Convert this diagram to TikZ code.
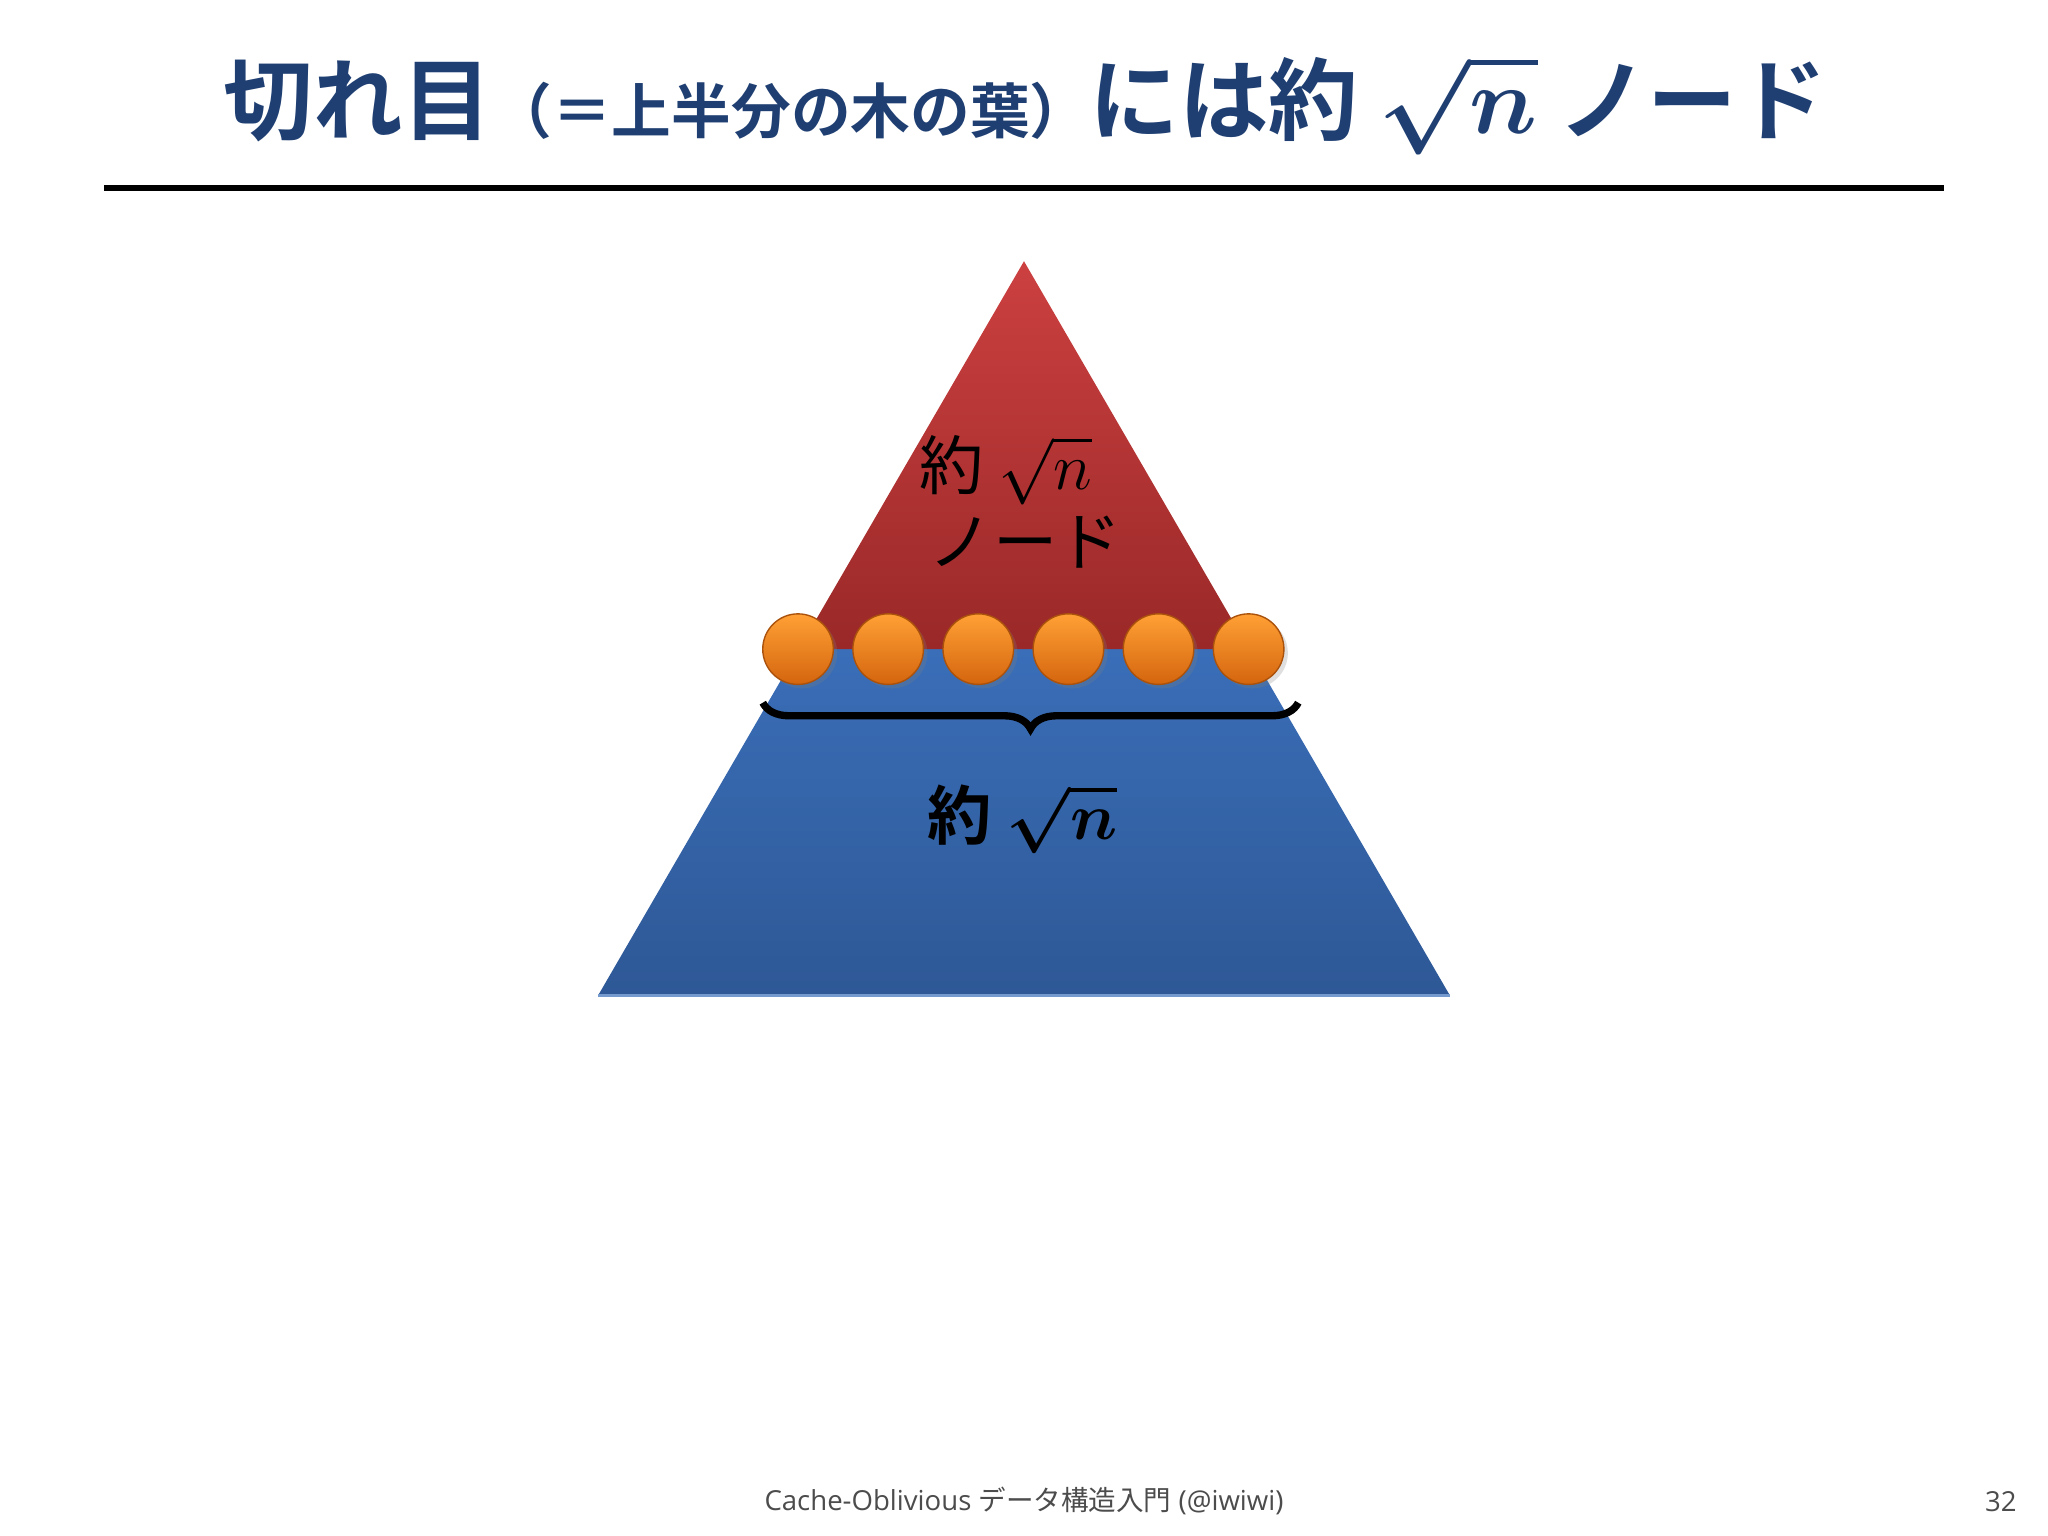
\documentclass[tikz,border=0pt]{standalone}
\usepackage{amsmath,bm}
\usepackage{fontspec}
\newfontfamily\jp{Noto Sans CJK JP}
\newfontfamily\jpb{Noto Sans CJK JP Bold}
\setmainfont{Open Sans}
\usetikzlibrary{decorations.pathreplacing,shadows}
\definecolor{ttl}{HTML}{1F3F73}
\definecolor{redT}{HTML}{CC4040}
\definecolor{redB}{HTML}{9A2828}
\definecolor{bluT}{HTML}{3A6EB8}
\definecolor{bluB}{HTML}{2E5896}
\definecolor{orT}{HTML}{FFA035}
\definecolor{orB}{HTML}{D4650E}
\tikzset{ball/.style={circle,minimum size=0.54cm,inner sep=0pt,top color=orT,bottom color=orB,draw=orB!80!black,line width=0.3pt,drop shadow={opacity=0.25,shadow xshift=0.03cm,shadow yshift=-0.03cm}},
lbl/.style={font=\jp\fontsize{14}{16}\selectfont,text=black}}
\begin{document}
\begin{tikzpicture}[x=0.01cm,y=-0.01cm]
\useasboundingbox (0,0) rectangle (1568,1176);
\fill[white] (0,0) rectangle (1568,1176);
% title
\node[text=ttl,font=\jpb\fontsize{19.5}{24}\selectfont,anchor=center] (title) at (785,80)
 {切れ目{\fontsize{13}{16}\selectfont （＝上半分の木の葉）}には約 $\bm{\sqrt{n}}$ ノード};
\draw[line width=1.3pt] (80,144) -- (1488,144);
% triangle
\coordinate (apex) at (784,200);
\coordinate (bl) at (458,762);
\coordinate (br) at (1110,762);
\coordinate (ml) at (611.7,497);
\coordinate (mr) at (956.3,497);
\shade[top color=bluT,bottom color=bluB] (ml) -- (mr) -- (br) -- (bl) -- cycle;
\shade[top color=redT,bottom color=redB] (apex) -- (mr) -- (ml) -- cycle;
\draw[bluT!70!white,line width=0.6pt] (bl) -- (br);
% balls
\foreach \i/\x in {1/611,2/680,3/749,4/818,5/887,6/956}
  \node[ball] (b\i) at (\x,497) {};
% brace
\coordinate (brl) at (584,538);
\coordinate (brr) at (994,538);
\draw[line width=1.6pt,decorate,decoration={brace,mirror,amplitude=0.2cm,aspect=0.5}] (brl) -- (brr);
% labels
\node[lbl] (l1) at (770,360) {約 $\sqrt{n}$};
\node[lbl] (l2) at (785,415) {ノード};
\node[lbl,font=\jpb\fontsize{14}{16}\selectfont] (l3) at (783,627) {約 $\bm{\sqrt{n}}$};
% footer
\node[text=black!70,font=\fontsize{6}{7}\selectfont] (ft) at (784,1149) {Cache-Oblivious {\jp データ構造入門} (@iwiwi)};
\node[text=black!70,font=\fontsize{6}{7}\selectfont] (pg) at (1532,1150) {32};
\end{tikzpicture}
\end{document}
